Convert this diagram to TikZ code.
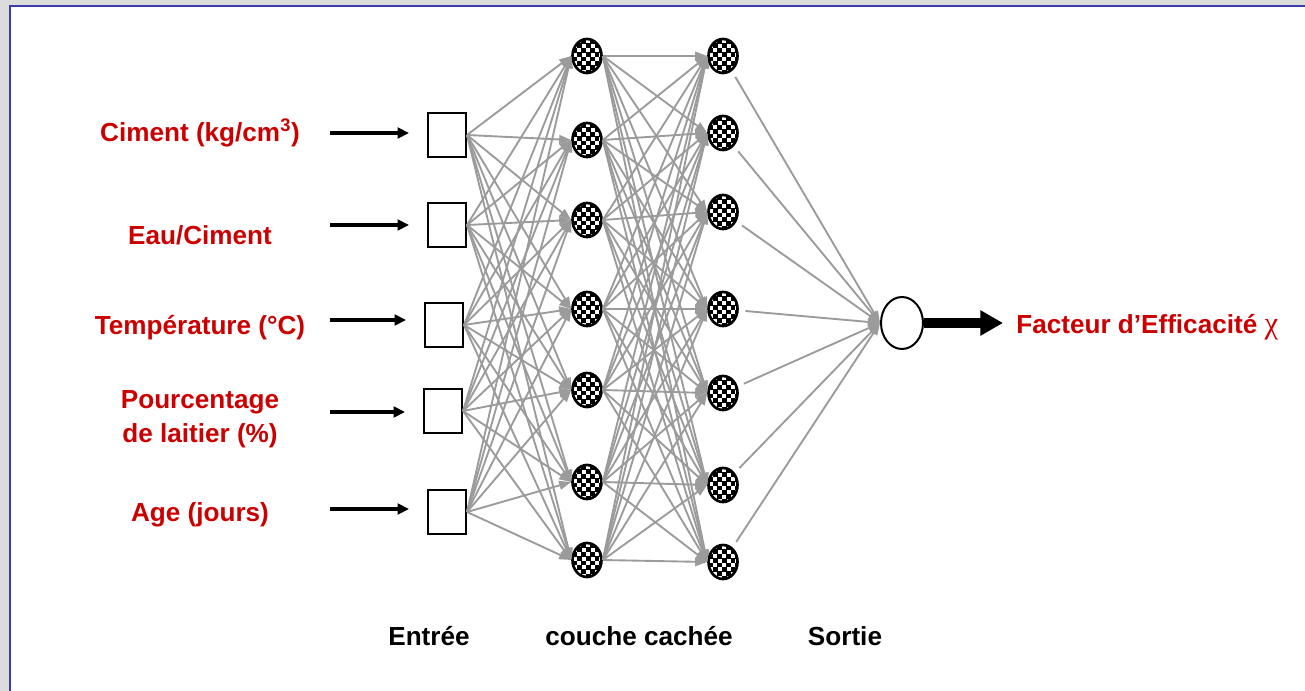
\documentclass[tikz,border=0pt]{standalone}
\usepackage{fontspec}
\setmainfont{Liberation Sans}
\newfontfamily\greekserif{Liberation Serif}
\usetikzlibrary{arrows.meta,shapes.geometric,calc}
\definecolor{lblred}{RGB}{204,0,0}
\definecolor{panelblue}{RGB}{60,60,170}
\definecolor{bggray}{RGB}{220,220,220}
\definecolor{linkgray}{RGB}{155,155,155}
\begin{document}
\begin{tikzpicture}[x=0.75pt,y=-0.75pt,
  txt/.style={font=\fontsize{19.6pt}{25.5pt}\selectfont\bfseries, inner sep=0pt, align=center},
  lbl/.style={txt, text=lblred},
  inbox/.style={draw=black, line width=1.5pt, fill=white, minimum width=28.5pt, minimum height=33pt, inner sep=0pt},
  neuron/.style={ellipse, draw=black, line width=2pt, fill=white, minimum width=21.75pt, minimum height=25.5pt, inner sep=0pt,
    path picture={\foreach \i in {0,...,7}{\foreach \j in {0,...,8}{\pgfmathtruncatemacro\p{mod(\i+\j,2)}\ifnum\p=0 \fill[black] ([shift={(\i*3.3pt,-\j*3.3pt)}]path picture bounding box.north west) rectangle ++(3.6pt,-3.6pt);\fi}}}},
  outnode/.style={ellipse, draw=black, line width=1.5pt, fill=white, minimum width=31.5pt, minimum height=39pt, inner sep=0pt},
  link/.style={draw=linkgray, line width=1.4pt, -{Triangle[length=9pt,width=6.5pt]}},
  inarrow/.style={draw=black, line width=2.7pt, -{Triangle[length=8.5pt,width=8pt]}, shorten >=13.5pt},
  bigarrow/.style={draw=black, line width=8.2pt, -{Triangle[length=17pt,width=18pt]}}
]
\useasboundingbox (0,0) rectangle (1305,691);
\clip (0,0) rectangle (1305,691);
\fill[bggray] (0,0) rectangle (1305,691);
\draw[panelblue, line width=2pt, fill=white] (10,6) rectangle (1320,710);

% input boxes
\foreach \n/\x/\y in {1/447/135, 2/447/225, 3/444/325, 4/443/411, 5/447/512}
  \node[inbox] (b\n) at (\x,\y) {};
% hidden layer 1
\foreach \n/\y in {1/56,2/140,3/220,4/309,5/390,6/482,7/560}
  \node[neuron] (h\n) at (587,\y) {};
% hidden layer 2
\foreach \n/\y in {1/56,2/133,3/212,4/309,5/393,6/485,7/562}
  \node[neuron] (g\n) at (723,\y) {};
% output
\node[outnode] (o) at (902,323) {};

% connections
\foreach \i in {1,...,5}{\foreach \j in {1,...,7}{\draw[link] (b\i.east) -- (h\j.west);}}
\foreach \i in {1,...,7}{\foreach \j in {1,...,7}{\draw[link] (h\i.east) -- (g\j.west);}}
\foreach \j in {1,...,7}{\draw[link, shorten <=5pt] (g\j) -- (o.west);}

% labels
\node[lbl] (l1) at (200,133) {Ciment (kg/cm\textsuperscript{3})};
\node[lbl] (l2) at (200,235) {Eau/Ciment};
\node[lbl] (l3) at (200,328) {Température (°C)};
\node[lbl] (l4) at (200,419) {Pourcentage\\de laitier (\%)};
\node[lbl] (l5) at (200,515) {Age (jours)};

% input arrows
\foreach \n/\y in {1/133,2/225,3/320,4/412,5/509}{
  \coordinate (s\n) at (330,\y);
  \draw[inarrow] (s\n) -- (s\n -| b\n.west);
}

% output arrow and label
\coordinate (oe) at (1003,323);
\draw[bigarrow] (o) -- (oe);
\node[lbl, anchor=west] (ol) at (1016,327) {Facteur d’Efficacité {\greekserif\mdseries\fontsize{23pt}{25pt}\selectfont χ}};

% bottom labels
\node[txt] (t1) at (429,636) {Entrée};
\node[txt] (t2) at (639,636) {couche cachée};
\node[txt] (t3) at (845,636) {Sortie};
\end{tikzpicture}
\end{document}
